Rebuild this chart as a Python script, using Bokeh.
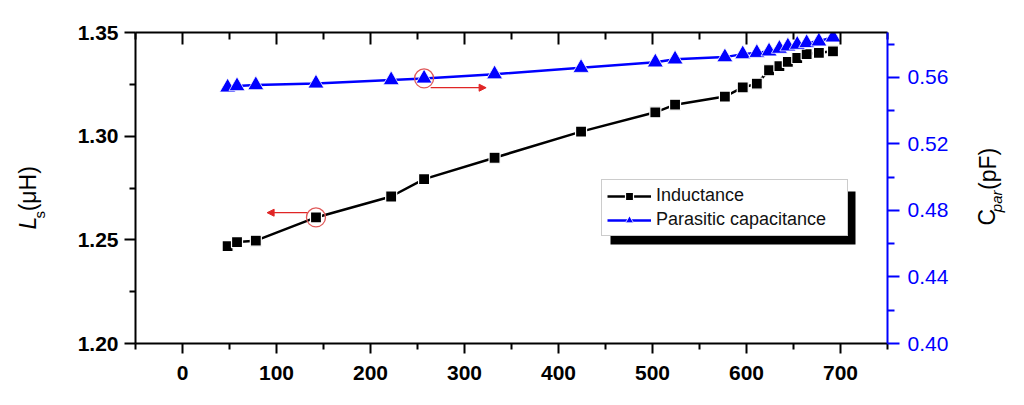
import math
from bokeh.plotting import figure
from bokeh.layouts import row
from bokeh.models import (Range1d, LinearAxis, FixedTicker, PrintfTickFormatter,
                          CustomJSTickFormatter, Legend, LegendItem, Arrow,
                          NormalHead, BoxAnnotation)
from bokeh.core.properties import value
from bokeh.embed import file_html
from bokeh.resources import INLINE

# ---------------- data ----------------
freq = [48, 58, 78, 142, 222, 257, 332, 424, 503, 524, 577, 596, 611, 624,
        635, 644, 654, 664, 677, 692]
inductance = [1.2470, 1.2489, 1.2496, 1.2608, 1.2709, 1.2793, 1.2896, 1.3022,
              1.3115, 1.3152, 1.3191, 1.3235, 1.3253, 1.3318, 1.3338, 1.3358,
              1.3377, 1.3396, 1.3402, 1.3409]
capacitance = [0.5540, 0.5548, 0.5554, 0.5564, 0.5584, 0.5594, 0.5619, 0.5658,
               0.5691, 0.5709, 0.5722, 0.5740, 0.5748, 0.5757, 0.5773, 0.5787,
               0.5797, 0.5807, 0.5817, 0.5841]
series_names = ["Inductance", "Parasitic capacitance"]

x_ticks = [0, 100, 200, 300, 400, 500, 600, 700]
x_minor = [-50, 50, 150, 250, 350, 450, 550, 650, 750]
l_ticks = [1.20, 1.25, 1.30, 1.35]
l_minor = [1.225, 1.275, 1.325]
c_ticks = [0.40, 0.44, 0.48, 0.52, 0.56]
c_minor = [0.42, 0.46, 0.50, 0.54, 0.58]

# axis title pieces: (text, style, size)
left_title = [("L", "italic", "23px"), ("s", "normal", "15px"), ("(μH)", "normal", "23px")]
right_title = [("C", "normal", "23px"), ("par", "italic", "15px"), ("(pF)", "normal", "23px")]

# highlighted points (indices) with arrows pointing to their axis
hl_L = 3
hl_C = 5

# ---------------- style / layout ----------------
FONT = "Liberation Sans"
BLUE = "#0000ff"
RED = "#e02525"
FW, FH = 752, 311
TOP_B, BOT_B = 32, 50
H = TOP_B + FH + BOT_B
LEFT_W, LEFT_B, RIGHT_B, RIGHT_W = 68, 67, 70, 57
XR = (-50, 750)
LR = (1.20, 1.35)
CR = (0.40, 0.587)

p = figure(frame_width=FW, frame_height=FH, min_border_left=LEFT_B, min_border_right=RIGHT_B,
           min_border_top=TOP_B, min_border_bottom=BOT_B,
           x_range=Range1d(*XR), y_range=Range1d(*LR),
           output_backend="svg", toolbar_location=None,
           x_axis_location=None, y_axis_location=None)
p.extra_y_ranges = {"c": Range1d(*CR)}
p.xgrid.visible = False
p.ygrid.visible = False
p.outline_line_color = None
p.background_fill_color = "white"
p.border_fill_color = "white"


def style_axis(ax, color, bold, tick_in=0, tick_out=11, minor_in=0, minor_out=6):
    ax.axis_line_color = color
    ax.axis_line_width = 2
    ax.major_tick_line_color = color
    ax.minor_tick_line_color = color
    ax.major_tick_line_width = 2
    ax.minor_tick_line_width = 2
    ax.major_tick_in = tick_in
    ax.major_tick_out = tick_out
    ax.minor_tick_in = minor_in
    ax.minor_tick_out = minor_out
    ax.major_label_text_font = FONT
    ax.major_label_text_font_size = "21px"
    ax.major_label_text_font_style = "bold" if bold else "normal"
    ax.major_label_text_color = color


bottom = LinearAxis(ticker=FixedTicker(ticks=x_ticks, minor_ticks=x_minor),
                    formatter=PrintfTickFormatter(format="%d"))
style_axis(bottom, "black", True, tick_out=10, minor_out=6)
bottom.major_label_standoff = 12
p.add_layout(bottom, "below")

top = LinearAxis(ticker=FixedTicker(ticks=x_ticks, minor_ticks=x_minor),
                 formatter=CustomJSTickFormatter(code="return ''"))
style_axis(top, "black", True, tick_in=12, tick_out=0, minor_in=7, minor_out=0)
top.major_label_text_font_size = "0px"
top.major_label_standoff = 0
p.add_layout(top, "above")

left = LinearAxis(ticker=FixedTicker(ticks=l_ticks, minor_ticks=l_minor),
                  formatter=PrintfTickFormatter(format="%.2f"))
style_axis(left, "black", True, tick_out=11, minor_out=6)
left.major_label_standoff = 6
p.add_layout(left, "left")

right = LinearAxis(y_range_name="c",
                   ticker=FixedTicker(ticks=c_ticks, minor_ticks=c_minor),
                   formatter=PrintfTickFormatter(format="%.2f"))
style_axis(right, BLUE, False, tick_out=12, minor_out=7)
right.major_label_standoff = 8
p.add_layout(right, "right")

# ---------------- series ----------------
l_line = p.line(freq, inductance, line_color="black", line_width=2.5)
l_mark = p.scatter(freq, inductance, marker="square", size=11, fill_color="black",
                   line_color="white", line_width=1.2)
c_line = p.line(freq, capacitance, line_color=BLUE, line_width=2.5, y_range_name="c")
c_mark = p.scatter(freq, capacitance, marker="triangle", size=16, fill_color=BLUE,
                   line_color="white", line_width=0.8, y_range_name="c")

# highlight circles + arrows
p.scatter([freq[hl_L]], [inductance[hl_L]], marker="circle", size=19,
          fill_color=None, line_color="#e05a5a", line_width=1.3)
p.scatter([freq[hl_C]], [capacitance[hl_C]], marker="circle", size=19,
          fill_color=None, line_color="#e05a5a", line_width=1.3, y_range_name="c")
p.add_layout(Arrow(end=NormalHead(size=7, fill_color=RED, line_color=RED),
                   x_start=freq[hl_L] - 9, y_start=inductance[hl_L] + 0.0023,
                   x_end=freq[hl_L] - 52, y_end=inductance[hl_L] + 0.0023,
                   line_color=RED, line_width=1.2))
p.add_layout(Arrow(end=NormalHead(size=7, fill_color=RED, line_color=RED),
                   x_start=freq[hl_C] + 7, y_start=capacitance[hl_C] - 0.0056,
                   x_end=freq[hl_C] + 66, y_end=capacitance[hl_C] - 0.0056,
                   line_color=RED, line_width=1.2, y_range_name="c"))

# ---------------- legend with shadow ----------------
LEG_X, LEG_Y = 466, 107          # bottom-left of legend box, px from frame bottom-left
LEG_W, LEG_H = 245, 53
SH_DX, SH_DY = 9, 8


def px2x(px):
    return XR[0] + px * (XR[1] - XR[0]) / FW


def px2y(py):
    return LR[0] + py * (LR[1] - LR[0]) / FH


p.add_layout(BoxAnnotation(left=px2x(LEG_X + SH_DX), right=px2x(LEG_X + LEG_W + SH_DX),
                           bottom=px2y(LEG_Y - SH_DY), top=px2y(LEG_Y + LEG_H - SH_DY),
                           fill_color="black", fill_alpha=1.0, line_color=None))

legend = Legend(items=[LegendItem(label=series_names[0], renderers=[l_line, l_mark]),
                       LegendItem(label=series_names[1], renderers=[c_line, c_mark])],
                location=(LEG_X, LEG_Y), padding=5, spacing=3, margin=0,
                glyph_width=44, glyph_height=20, label_height=20, label_width=186,
                label_standoff=5, label_text_font=FONT, label_text_font_size="18px",
                label_text_color="#111111",
                border_line_color="#999999", border_line_width=1,
                background_fill_color="white", background_fill_alpha=1.0)
p.add_layout(legend)


# ---------------- axis titles: narrow side panels with rotated text ----------------
def side_panel(width, pieces, xs, starts):
    f = figure(width=width, height=H, x_range=Range1d(0, width), y_range=Range1d(0, H),
               min_border=0, output_backend="svg", toolbar_location=None,
               x_axis_location=None, y_axis_location=None)
    f.xgrid.visible = False
    f.ygrid.visible = False
    f.outline_line_color = None
    f.border_fill_color = "white"
    for (txt, style, size), xx, yy in zip(pieces, xs, starts):
        f.text(x=[xx], y=[H - yy], text=[txt], angle=math.pi / 2,
               text_font=value(FONT), text_font_size=value(size),
               text_font_style=style, text_align="left", text_baseline="middle",
               text_color="black")
    return f


# x centre (px within panel) and start position (page y, from top) of each piece
left_fig = side_panel(LEFT_W, left_title, [27.5, 38.5, 27.0], [249, 235, 226])
right_fig = side_panel(RIGHT_W, right_title, [29.5, 39.0, 30.0], [244, 227, 199])

layout = row(left_fig, p, right_fig, spacing=0)
open("out.html", "w").write(file_html(layout, INLINE))
